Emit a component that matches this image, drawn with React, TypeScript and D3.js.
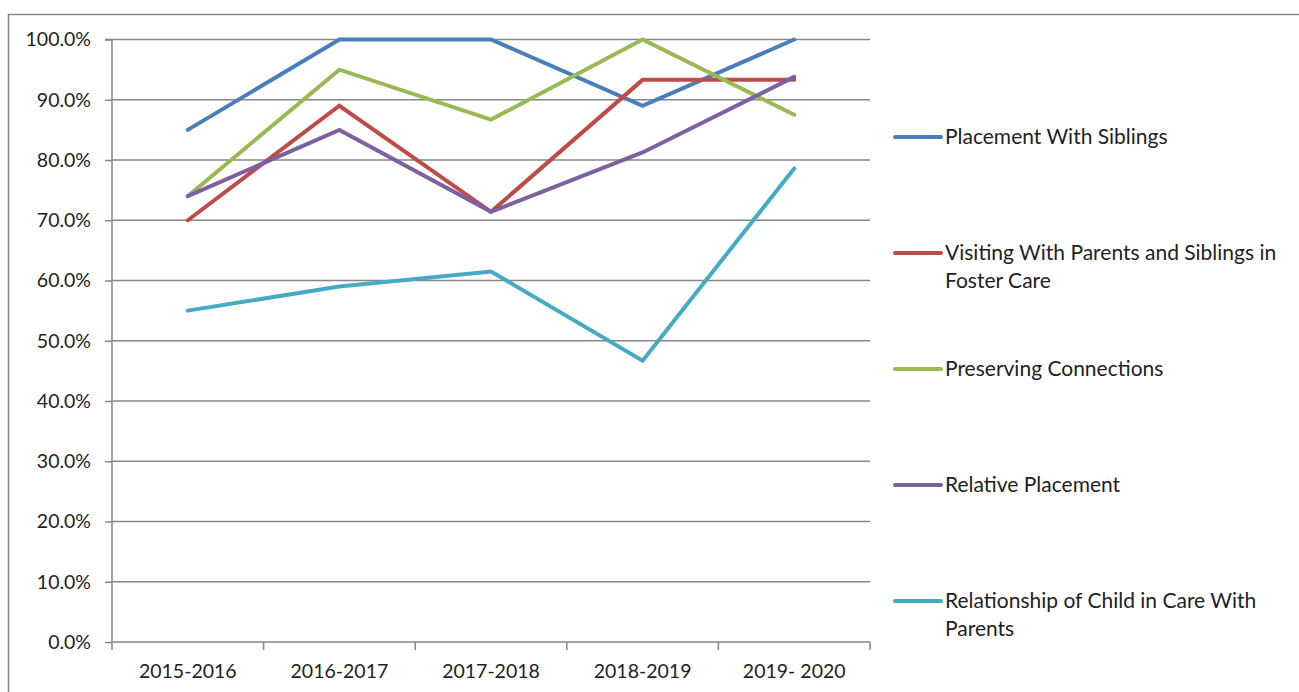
import React, { useRef, useEffect } from 'react';
import * as d3 from 'd3';

const years = ['2015-2016', '2016-2017', '2017-2018', '2018-2019', '2019- 2020'];
const seriesNames = [
  'Placement With Siblings',
  'Visiting With Parents and Siblings in Foster Care',
  'Preserving Connections',
  'Relative Placement',
  'Relationship of Child in Care With Parents'
];
const legendLines = [
  ['Placement With Siblings'],
  ['Visiting With Parents and Siblings in', 'Foster Care'],
  ['Preserving Connections'],
  ['Relative Placement'],
  ['Relationship of Child in Care With', 'Parents']
];
const colors = ['#4a7ebb', '#be4b48', '#98b954', '#7d60a0', '#46aac5'];

const siblings = [0.85, 1.0, 1.0, 0.89, 1.0];
const visiting = [0.7, 0.89, 0.714, 0.933, 0.933];
const connections = [0.74, 0.95, 0.867, 1.0, 0.875];
const relative = [0.74, 0.85, 0.714, 0.8125, 0.938];
const parents = [0.55, 0.59, 0.615, 0.467, 0.786];
const allSeries = [siblings, visiting, connections, relative, parents];

const yTicks = [0, 0.1, 0.2, 0.3, 0.4, 0.5, 0.6, 0.7, 0.8, 0.9, 1.0];

const W = 1299;
const H = 692;
const FONT = 'Lato, "Open Sans", sans-serif';

const App = () => {
  const svgRef = useRef<SVGSVGElement>(null);

  useEffect(() => {
    const svg = d3.select(svgRef.current);
    svg.selectAll('*').remove();

    const left = 112;
    const right = 870;
    const top = 39.5;
    const bottom = 642;

    // outer chart frame
    svg
      .append('rect')
      .attr('x', 8.5)
      .attr('y', 14.5)
      .attr('width', 1400)
      .attr('height', 800)
      .attr('fill', 'white')
      .attr('stroke', '#868686')
      .attr('stroke-width', 1.5);

    const x = d3.scaleBand().domain(years).range([left, right]);
    const y = d3.scaleLinear().domain([0, 1]).range([bottom, top]);

    // gridlines
    svg
      .append('g')
      .selectAll('line')
      .data(yTicks.slice(1))
      .join('line')
      .attr('x1', left)
      .attr('x2', right)
      .attr('y1', d => y(d))
      .attr('y2', d => y(d))
      .attr('stroke', '#868686')
      .attr('stroke-width', 1.5);

    // y axis
    const yAxis = d3
      .axisLeft(y)
      .tickValues(yTicks)
      .tickSize(7)
      .tickPadding(14)
      .tickFormat(d => `${(+d * 100).toFixed(1)}%`);
    const yg = svg.append('g').attr('transform', `translate(${left},0)`).call(yAxis);
    yg.select('.domain').attr('stroke', '#868686').attr('stroke-width', 1.5).attr('d', `M-7,${top}H0V${bottom}`);
    yg.selectAll('.tick line').attr('stroke', '#868686').attr('stroke-width', 1.5);
    yg.selectAll('.tick text')
      .attr('font-family', FONT)
      .attr('font-size', 19.5)
      .attr('fill', '#222');

    // x axis
    const xAxis = d3.axisBottom(x).tickSize(0).tickPadding(22);
    const xg = svg.append('g').attr('transform', `translate(0,${bottom})`).call(xAxis);
    xg.select('.domain').attr('stroke', '#868686').attr('stroke-width', 1.5).attr('d', `M${left},0H${right}`);
    xg.selectAll('.tick text')
      .attr('font-family', FONT)
      .attr('font-size', 19.5)
      .attr('fill', '#222');
    xg.append('g')
      .selectAll('line')
      .data([...years.map(c => x(c) as number), right])
      .join('line')
      .attr('x1', d => d)
      .attr('x2', d => d)
      .attr('y1', 0)
      .attr('y2', 8)
      .attr('stroke', '#868686')
      .attr('stroke-width', 1.5);

    // series lines
    const lineGen = d3
      .line<number>()
      .x((d, i) => (x(years[i]) as number) + x.bandwidth() / 2)
      .y(d => y(d));

    allSeries.forEach((s, i) => {
      svg
        .append('path')
        .datum(s)
        .attr('d', lineGen)
        .attr('fill', 'none')
        .attr('stroke', colors[i])
        .attr('stroke-width', 4)
        .attr('stroke-linecap', 'round')
        .attr('stroke-linejoin', 'miter');
    });

    // legend
    const lg = svg.append('g');
    seriesNames.forEach((name, i) => {
      const ly = 137 + i * 116;
      const item = lg.append('g').attr('transform', `translate(0,${ly})`);
      item
        .append('line')
        .attr('x1', 895)
        .attr('x2', 941)
        .attr('y1', 0)
        .attr('y2', 0)
        .attr('stroke', colors[i])
        .attr('stroke-width', 4)
        .attr('stroke-linecap', 'round');
      const t = item
        .append('text')
        .attr('x', 945)
        .attr('y', 7)
        .attr('font-family', FONT)
        .attr('font-size', 21)
        .attr('fill', '#222');
      legendLines[i].forEach((ln, j) => {
        t.append('tspan').attr('x', 945).attr('dy', j === 0 ? 0 : 27.5).text(ln);
      });
    });
  }, []);

  return (
    <svg
      ref={svgRef}
      width={W}
      height={H}
      style={{ position: 'absolute', left: 0, top: 0, background: 'white' }}
    />
  );
};

export default App;
